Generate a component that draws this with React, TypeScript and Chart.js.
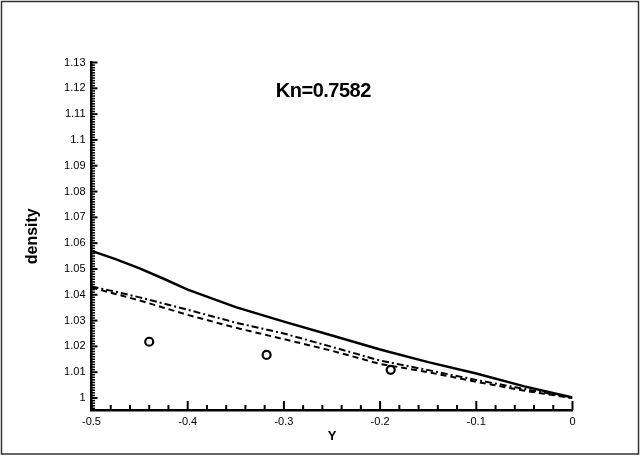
import React, { useEffect, useRef } from "react";
import { Chart, registerables } from "chart.js";

Chart.register(...registerables);

// ---- data ----
const xValues = [-0.5, -0.475, -0.45, -0.425, -0.4, -0.35, -0.3, -0.25, -0.2, -0.15, -0.1, -0.05, 0];
const solidDensity = [1.057, 1.0538, 1.0502, 1.0462, 1.042, 1.0352, 1.0296, 1.0242, 1.0188, 1.0139, 1.0095, 1.0045, 1.0002];
const dashDotDensity = [1.0432, 1.0412, 1.039, 1.0366, 1.0342, 1.0292, 1.025, 1.0198, 1.0145, 1.0108, 1.007, 1.0035, 1.0];
const dashedDensity = [1.0428, 1.0403, 1.0378, 1.035, 1.0322, 1.0272, 1.0228, 1.0183, 1.0132, 1.01, 1.0063, 1.0028, 1.0];
const markerX = [-0.44, -0.318, -0.189];
const markerDensity = [1.0218, 1.0167, 1.0109];

const xTickValues = [-0.5, -0.4, -0.3, -0.2, -0.1, 0];
const xTickLabels = ["-0.5", "-0.4", "-0.3", "-0.2", "-0.1", "0"];
const yTickValues = [1, 1.01, 1.02, 1.03, 1.04, 1.05, 1.06, 1.07, 1.08, 1.09, 1.1, 1.11, 1.12, 1.13];
const yTickLabels = ["1", "1.01", "1.02", "1.03", "1.04", "1.05", "1.06", "1.07", "1.08", "1.09", "1.1", "1.11", "1.12", "1.13"];

const annotationText = "Kn=0.7582";
const annotationX = -0.259;
const annotationY = 1.1187;

const FONT = "'Liberation Sans', Arial, Helvetica, sans-serif";

const framePlugin = {
  id: "frame",
  beforeDraw(chart: any) {
    const { ctx, width, height } = chart;
    ctx.save();
    ctx.fillStyle = "#ffffff";
    ctx.fillRect(0, 0, width, height);
    ctx.strokeStyle = "#333333";
    ctx.lineWidth = 1.5;
    ctx.strokeRect(1.5, 1.5, 637, 452.5);
    ctx.restore();
  },
};

const inwardTicksPlugin = {
  id: "inwardTicks",
  afterDraw(chart: any) {
    const { ctx, chartArea, scales } = chart;
    const xs = scales.x;
    const ys = scales.y;
    ctx.save();
    ctx.strokeStyle = "#000";
    // y ticks every 0.001, major every 0.01
    const k0 = Math.ceil(ys.min / 0.001 - 1e-6);
    const k1 = Math.floor(ys.max / 0.001 + 1e-6);
    for (let k = k0; k <= k1; k++) {
      const major = k % 10 === 0;
      const py = ys.getPixelForValue(k * 0.001);
      ctx.lineWidth = major ? 2 : 1.5;
      ctx.beginPath();
      ctx.moveTo(chartArea.left, py);
      ctx.lineTo(chartArea.left + (major ? 6 : 3.5), py);
      ctx.stroke();
    }
    // x ticks every 0.02, major every 0.1
    for (let k = -25; k <= 0; k++) {
      const major = k % 5 === 0;
      const px = xs.getPixelForValue(k * 0.02);
      ctx.lineWidth = 2;
      ctx.beginPath();
      ctx.moveTo(px, chartArea.bottom);
      ctx.lineTo(px, chartArea.bottom - (major ? 9 : 5));
      ctx.stroke();
    }
    // annotation
    ctx.fillStyle = "#000";
    ctx.font = `bold 20px ${FONT}`;
    try {
      (ctx as any).letterSpacing = "-0.5px";
    } catch (e) {}
    ctx.textAlign = "center";
    ctx.textBaseline = "middle";
    ctx.fillText(annotationText, xs.getPixelForValue(annotationX), ys.getPixelForValue(annotationY));
    ctx.restore();
  },
};

export default function App() {
  const ref = useRef<HTMLCanvasElement>(null);
  useEffect(() => {
    document.body.style.margin = "0";
    const pts = (ys: number[]) => xValues.map((x, i) => ({ x, y: ys[i] }));
    const chart = new Chart(ref.current!, {
      type: "scatter",
      data: {
        datasets: [
          {
            label: "solid",
            data: pts(solidDensity),
            showLine: true,
            borderColor: "#000",
            borderWidth: 2.5,
            pointRadius: 0,
            tension: 0,
          },
          {
            label: "dash-dot",
            data: pts(dashDotDensity),
            showLine: true,
            borderColor: "#000",
            borderWidth: 2,
            borderDash: [7, 3, 2, 3],
            pointRadius: 0,
            tension: 0,
          },
          {
            label: "dashed",
            data: pts(dashedDensity),
            showLine: true,
            borderColor: "#000",
            borderWidth: 2,
            borderDash: [6, 4],
            pointRadius: 0,
            tension: 0,
          },
          {
            label: "markers",
            data: markerX.map((x, i) => ({ x, y: markerDensity[i] })),
            showLine: false,
            pointStyle: "circle",
            pointRadius: 4,
            pointBorderWidth: 2.2,
            pointBorderColor: "#000",
            pointBackgroundColor: "#fff",
          },
        ],
      },
      options: {
        animation: false,
        responsive: false,
        devicePixelRatio: 1,
        layout: { padding: { top: 62.5, right: 70.5, left: 0, bottom: 0 } },
        plugins: { legend: { display: false }, tooltip: { enabled: false } },
        scales: {
          x: {
            type: "linear",
            min: -0.5,
            max: 0,
            afterBuildTicks: (s: any) => {
              s.ticks = xTickValues.map((v) => ({ value: v }));
            },
            afterFit: (s: any) => {
              s.height = 49;
            },
            ticks: {
              autoSkip: false,
              maxRotation: 0,
              padding: 5,
              color: "#000",
              font: { size: 11, family: FONT },
              callback: (v: any) => xTickLabels[xTickValues.findIndex((t) => Math.abs(t - v) < 1e-9)] ?? "",
            },
            grid: { display: false, drawTicks: false },
            border: { display: true, color: "#000", width: 2.5 },
            title: {
              display: true,
              text: "Y",
              color: "#000",
              font: { size: 13, weight: "bold", family: FONT },
              padding: { top: 0, bottom: 15 },
            },
          },
          y: {
            type: "linear",
            min: 0.99535,
            max: 1.13,
            afterBuildTicks: (s: any) => {
              s.ticks = yTickValues.map((v) => ({ value: v }));
            },
            afterFit: (s: any) => {
              s.width = 91.5;
            },
            ticks: {
              autoSkip: false,
              padding: 6,
              color: "#000",
              font: { size: 11, family: FONT },
              callback: (v: any) => yTickLabels[yTickValues.findIndex((t) => Math.abs(t - v) < 1e-9)] ?? "",
            },
            grid: { display: false, drawTicks: false },
            border: { display: true, color: "#000", width: 2.5 },
            title: {
              display: true,
              text: "density",
              color: "#000",
              font: { size: 16, weight: "bold", family: FONT },
              padding: { top: 23, bottom: 0 },
            },
          },
        },
      },
      plugins: [framePlugin, inwardTicksPlugin],
    } as any);
    return () => chart.destroy();
  }, []);
  return (
    <div style={{ position: "fixed", left: 0, top: 0, width: 643, height: 459, background: "#fff" }}>
      <canvas ref={ref} width={643} height={459} style={{ display: "block", width: 643, height: 459 }} />
    </div>
  );
}
